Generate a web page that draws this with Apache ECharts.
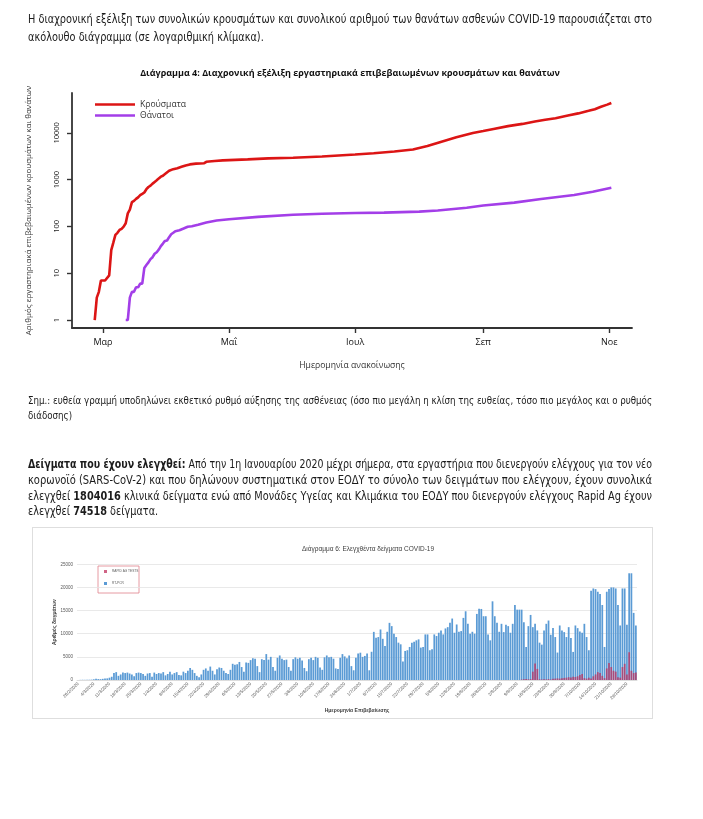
<!DOCTYPE html>
<html><head><meta charset="utf-8">
<script src="https://cdn.jsdelivr.net/npm/echarts@6/dist/echarts.min.js"></script>
<style>
html,body{margin:0;padding:0;background:#fff;}
body{width:703px;height:819px;position:relative;overflow:hidden;}
#chart{position:absolute;left:0;top:0;width:703px;height:819px;}
.box{position:absolute;left:32px;top:527px;width:619px;height:190px;border:1px solid #dedede;}
.ln{position:absolute;left:28px;white-space:nowrap;color:#1b1b1b;transform-origin:0 50%;
  font-family:"Liberation Sans Narrow","DejaVu Sans Condensed","Liberation Sans",sans-serif;line-height:1;}
.ln b{font-weight:bold;}
</style></head>
<body>
<div class="box"></div>
<div id="chart"></div>
<div id="text"></div>
<script>
// ---------- Chart 1 data (cumulative, log scale) ----------
const casesData = [
 ['2020-02-26',1],['2020-02-27',3],['2020-02-28',4],['2020-02-29',7],['2020-03-02',7],['2020-03-04',9],
 ['2020-03-05',31],['2020-03-06',45],['2020-03-07',66],['2020-03-08',73],['2020-03-09',84],['2020-03-10',89],
 ['2020-03-11',99],['2020-03-12',117],['2020-03-13',190],['2020-03-14',228],['2020-03-15',331],['2020-03-16',352],
 ['2020-03-17',387],['2020-03-18',418],['2020-03-19',464],['2020-03-20',495],['2020-03-21',530],['2020-03-22',624],
 ['2020-03-23',695],['2020-03-24',743],['2020-03-25',821],['2020-03-26',892],['2020-03-27',966],['2020-03-28',1061],
 ['2020-03-29',1156],['2020-03-30',1212],['2020-03-31',1314],['2020-04-02',1544],['2020-04-04',1673],['2020-04-06',1755],
 ['2020-04-08',1884],['2020-04-10',2011],['2020-04-12',2114],['2020-04-15',2192],['2020-04-19',2245],['2020-04-20',2401],
 ['2020-04-24',2506],['2020-04-28',2576],['2020-05-01',2612],['2020-05-10',2710],['2020-05-20',2840],['2020-06-01',2930],
 ['2020-06-15',3120],['2020-07-01',3430],['2020-07-10',3670],['2020-07-20',3980],['2020-07-29',4400],['2020-08-05',5200],
 ['2020-08-11',6300],['2020-08-19',8000],['2020-08-27',9900],['2020-09-01',10900],['2020-09-06',12100],['2020-09-13',13900],
 ['2020-09-20',15500],['2020-09-26',17500],['2020-10-01',19000],['2020-10-06',20500],['2020-10-12',23500],['2020-10-17',26000],
 ['2020-10-22',29500],['2020-10-25',32000],['2020-10-28',36000],['2020-10-31',40000],['2020-11-02',43500]
];
const deathsData = [
 ['2020-03-12',1],['2020-03-13',1],['2020-03-14',3],['2020-03-15',4],['2020-03-16',4],['2020-03-17',5],['2020-03-18',5],
 ['2020-03-19',6],['2020-03-20',6],['2020-03-21',13],['2020-03-22',15],['2020-03-23',17],['2020-03-24',20],['2020-03-25',22],
 ['2020-03-26',26],['2020-03-27',28],['2020-03-28',32],['2020-03-29',38],['2020-03-30',43],['2020-03-31',49],['2020-04-01',50],
 ['2020-04-02',59],['2020-04-03',68],['2020-04-04',73],['2020-04-05',79],['2020-04-07',83],['2020-04-09',90],['2020-04-11',98],
 ['2020-04-13',101],['2020-04-16',108],['2020-04-20',121],['2020-04-25',134],['2020-05-01',142],['2020-05-15',160],
 ['2020-06-01',178],['2020-06-15',186],['2020-07-01',193],['2020-07-15',197],['2020-08-01',207],['2020-08-10',218],
 ['2020-08-24',250],['2020-09-01',280],['2020-09-16',322],['2020-09-29',385],['2020-10-15',470],['2020-10-24',550],['2020-11-02',670]
];
const xTickDates = ['2020-03-01','2020-05-01','2020-07-01','2020-09-01','2020-11-01'];
const xTickLabels = ['Μαρ','Μαΐ','Ιουλ','Σεπ','Νοε'];
const yTickValues = [1,10,100,1000,10000];

// ---------- Chart 2 data (daily tests from 26/2/2020) ----------
const pcrTests = [
 20,30,50,40,30,60,80,
 150,250,200,180,250,300,350,
 500,700,1500,1700,900,1200,1600,
 1500,1600,1400,1200,800,1500,1600,
 1500,1300,900,1400,1500,700,1600,
 1300,1500,1400,1700,1000,1300,1800,
 1200,1500,1700,1100,1000,1800,1500,
 2000,2600,2200,1500,900,600,1200,
 2200,2500,2000,2900,2000,1200,2300,
 2700,2600,2000,1500,1300,2200,3500,
 3300,3400,3900,2800,1800,3800,3700,
 4300,4700,4600,3000,1700,4500,4300,
 5600,4400,5000,2800,2000,4800,5300,
 4600,4300,4400,2800,2000,4500,4900,
 4600,4800,4200,2600,1900,4500,4800,
 4300,5000,4800,2700,2200,4900,5300,
 4900,5000,4600,2500,2400,4800,5600,
 5100,4700,5300,3000,2100,4800,5700,
 5900,5000,5200,5700,2100,6100,
 10400,9140,9280,10920,8900,7350,10420,12350,11640,10000,9280,8070,7710,4000,6280,6430,7140,8070,8280,8570,
 8780,7000,7140,9850,9850,6430,6640,9850,9500,10210,10710,9850,11140,11420,12350,13280,10210,12000,10420,10570,
 13420,14850,12140,10000,10420,10000,14280,15420,15350,13780,13780,9850,8570,17000,13780,12350,10420,
 12140,10350,11920,11640,10210,12140,16200,15200,15200,15200,12500,7140,11640,14060,11420,12140,10710,8070,7640,10710,
 12140,12850,9780,11210,9280,5930,11780,10710,10350,9280,11420,9070,6070,11780,11210,10500,10210,12140,9280,6430,
 19280,19780,19640,19070,18570,16200,7140,19070,19640,20000,20000,19780,16200,11780,19780,19780,11920,23060,23060,14500,11780
];
const rapidStartIndex = 198; // 11/9/2020
const rapidTests = [
 100,150,200,150,200,1800,3570,2400,150,100,150,120,200,100,
 250,300,350,300,400,450,500,600,550,700,650,800,1100,1300,
 400,300,500,350,800,1200,1700,1500,900,400,2500,3700,
 2800,2000,1800,600,500,2800,3500,1200,6000,2000,1500,1600
];

// ---------- Page text ----------
const textParas = [
 {size:12.5, lines:[
  {y:20, w:624, j:true, html:'Η διαχρονική εξέλιξη των συνολικών κρουσμάτων και συνολικού αριθμού των θανάτων ασθενών COVID-19 παρουσιάζεται στο'},
  {y:38, html:'ακόλουθο διάγραμμα (σε λογαριθμική κλίμακα).'}]},
 {size:10.5, lines:[
  {y:401, w:624, j:true, html:'Σημ.: ευθεία γραμμή υποδηλώνει εκθετικό ρυθμό αύξησης της ασθένειας (όσο πιο μεγάλη η κλίση της ευθείας, τόσο πιο μεγάλος και ο ρυθμός'},
  {y:416, html:'διάδοσης)'}]},
 {size:12.5, lines:[
  {y:465, w:624, j:true, html:'<b>Δείγματα που έχουν ελεγχθεί:</b> Από την 1η Ιανουαρίου 2020 μέχρι σήμερα, στα εργαστήρια που διενεργούν ελέγχους για τον νέο'},
  {y:481, w:624, j:true, html:'κορωνοϊό (SARS-CoV-2) και που δηλώνουν συστηματικά στον ΕΟΔΥ το σύνολο των δειγμάτων που ελέγχουν, έχουν συνολικά'},
  {y:497, w:624, j:true, html:'ελεγχθεί <b>1804016</b> κλινικά δείγματα ενώ από Μονάδες Υγείας και Κλιμάκια του ΕΟΔΥ που διενεργούν ελέγχους Rapid Ag έχουν'},
  {y:512, html:'ελεγχθεί <b>74518</b> δείγματα.'}]}
];

function layoutText(){
  const c = document.getElementById('text');
  textParas.forEach(p => {
    const els = p.lines.map(l => {
      const d = document.createElement('div');
      d.className = 'ln'; d.style.fontSize = p.size + 'px';
      d.style.top = (l.y - p.size * 0.55) + 'px';
      d.innerHTML = l.html; c.appendChild(d); return d;
    });
    const scales = [];
    els.forEach((el, i) => {
      const l = p.lines[i];
      if (l.j) scales.push(l.w / el.getBoundingClientRect().width);
    });
    const avg = scales.reduce((a, b) => a + b, 0) / scales.length;
    let k = 0;
    els.forEach((el, i) => {
      const sc = p.lines[i].j ? scales[k++] : avg;
      el.style.transform = 'scaleX(' + sc + ')';
    });
  });
}
layoutText();

// ---------- Chart ----------
const ts = s => +new Date(s + 'T00:00:00');
const xTickTs = xTickDates.map(ts);
const casesSeries = casesData.map(([d, v]) => [ts(d), v]);
const deathsSeries = deathsData.map(([d, v]) => [ts(d), v]);
const categories = pcrTests.map((_, i) => {
  const d = new Date(2020, 1, 26 + i);
  return d.getDate() + '/' + (d.getMonth() + 1) + '/' + d.getFullYear();
});
const rapidSeries = pcrTests.map((_, i) => i >= rapidStartIndex ? rapidTests[i - rapidStartIndex] : null);

const F1 = '"Open Sans", "Noto Sans", sans-serif';
const F2 = '"Liberation Sans", Arial, sans-serif';
const axisCol = '#333';

const chart = echarts.init(document.getElementById('chart'), null, {renderer:'canvas'});
chart.setOption({
  animation:false,
  textStyle:{fontFamily:F1},
  graphic:[
    {type:'text', x:350, y:73, style:{text:'Διάγραμμα 4: Διαχρονική εξέλιξη εργαστηριακά επιβεβαιωμένων κρουσμάτων και θανάτων',
      font:'bold 9px "Open Sans"', fill:'#111', align:'center', verticalAlign:'middle'}},
    {type:'text', x:368, y:549, style:{text:'Διάγραμμα 6: Ελεγχθέντα δείγματα COVID-19',
      font:'6.5px "Liberation Sans"', fill:'#404040', align:'center', verticalAlign:'middle'}},
    {type:'rect', shape:{x:98, y:566, width:41, height:27}, style:{fill:'none', stroke:'#e0808c', lineWidth:0.8}}
  ],
  legend:[
    {data:['Κρούσματα','Θάνατοι'], orient:'vertical', left:90, top:95, icon:'rect', itemWidth:40, itemHeight:2.6,
     itemGap:2, textStyle:{fontSize:8.6, color:'#333', fontFamily:F1}},
    {data:['RAPID AG TESTS','RT-PCR'], orient:'vertical', left:104, top:570, icon:'rect', itemWidth:3, itemHeight:3,
     itemGap:9, padding:0, textStyle:{fontSize:3.2, color:'#595959', fontFamily:F2}}
  ],
  grid:[
    {left:72, top:93, width:560, height:235},
    {left:77, top:564.3, width:560, height:115.7}
  ],
  xAxis:[
    {type:'value', gridIndex:0, min:ts('2020-02-15'), max:ts('2020-11-12'), scale:true,
     axisLine:{show:true, onZero:false, lineStyle:{color:axisCol, width:1.8}},
     axisTick:{show:true, customValues:xTickTs, length:5, lineStyle:{color:axisCol, width:1.4}},
     axisLabel:{customValues:xTickTs, margin:10, fontSize:9, color:'#111', fontFamily:F1,
       formatter:v => xTickLabels[xTickTs.indexOf(v)] || ''},
     splitLine:{show:false},
     name:'Ημερομηνία ανακοίνωσης', nameLocation:'middle', nameGap:33, nameMoveOverlap:false,
     nameTextStyle:{fontSize:8.6, color:'#333', fontFamily:F1}},
    {type:'category', gridIndex:1, data:categories, boundaryGap:true,
     axisLine:{lineStyle:{color:'#d9d9d9', width:0.8}}, axisTick:{show:false},
     axisLabel:{interval:6, rotate:45, fontSize:4.5, color:'#595959', margin:3, fontFamily:F2},
     name:'Ημερομηνία Επιβεβαίωσης', nameLocation:'middle', nameGap:28, nameMoveOverlap:false,
     nameTextStyle:{fontSize:5, fontWeight:'bold', color:'#404040', fontFamily:F2}}
  ],
  yAxis:[
    {type:'log', logBase:10, gridIndex:0, min:0.675, max:70900,
     axisLine:{show:true, lineStyle:{color:axisCol, width:1.8}},
     axisTick:{show:true, customValues:yTickValues, length:5, lineStyle:{color:axisCol, width:1.4}},
     axisLabel:{customValues:yTickValues, rotate:90, margin:11, fontSize:7.5, color:'#222', fontFamily:F1,
       formatter:v => String(Math.round(v))},
     splitLine:{show:false},
     name:'Αριθμός εργαστηριακά επιβεβαιωμένων κρουσμάτων και θανάτων', nameLocation:'middle', nameGap:39,
     nameMoveOverlap:false,
     nameTextStyle:{fontSize:8, color:'#333', fontFamily:F1}},
    {type:'value', gridIndex:1, min:0, max:25000, interval:5000,
     axisLine:{show:false}, axisTick:{show:false},
     axisLabel:{fontSize:4.5, color:'#595959', margin:4, fontFamily:F2, formatter:v => String(v)},
     splitLine:{lineStyle:{color:'#e3e3e3', width:0.8}},
     name:'Αριθμός δειγμάτων', nameLocation:'middle', nameGap:20, nameMoveOverlap:false,
     nameTextStyle:{fontSize:5, fontWeight:'bold', color:'#404040', fontFamily:F2}}
  ],
  series:[
    {name:'Κρούσματα', type:'line', xAxisIndex:0, yAxisIndex:0, data:casesSeries, symbol:'none', showSymbol:false,
     lineStyle:{color:'#dc1515', width:2.6}, itemStyle:{color:'#dc1515'}},
    {name:'Θάνατοι', type:'line', xAxisIndex:0, yAxisIndex:0, data:deathsSeries, symbol:'none', showSymbol:false,
     lineStyle:{color:'#a33ee8', width:2.6}, itemStyle:{color:'#a33ee8'}},
    {name:'RT-PCR', type:'bar', xAxisIndex:1, yAxisIndex:1, data:pcrTests, barCategoryGap:'22%', barGap:'-100%',
     itemStyle:{color:'#5b9bd5'}},
    {name:'RAPID AG TESTS', type:'bar', xAxisIndex:1, yAxisIndex:1, data:rapidSeries, barCategoryGap:'22%', barGap:'-100%',
     itemStyle:{color:'#c0305e', opacity:0.75}}
  ]
});
</script>
</body></html>
